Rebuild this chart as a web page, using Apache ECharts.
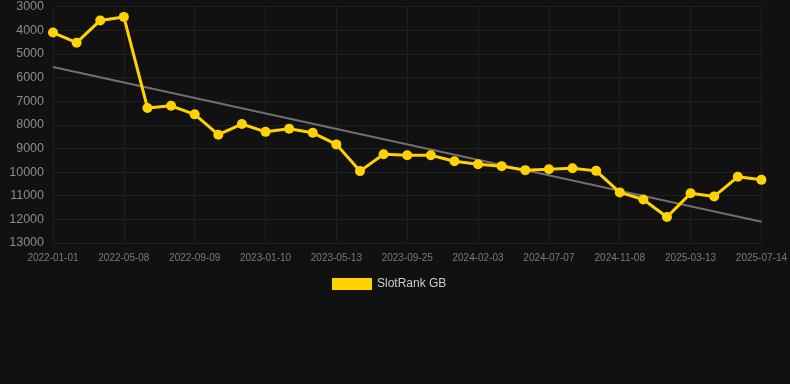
<!DOCTYPE html>
<html>
<head>
<meta charset="utf-8">
<script src="https://cdn.jsdelivr.net/npm/echarts@6/dist/echarts.min.js"></script>
<style>html,body{margin:0;padding:0;background:#111111;}#c{width:790px;height:384px;}</style>
</head>
<body>
<div id="c"></div>
<script>
const categories = ["2022-01-01","2022-02-12","2022-03-26","2022-05-08","2022-06-19","2022-07-31","2022-09-09","2022-10-21","2022-12-01","2023-01-10","2023-02-20","2023-04-02","2023-05-13","2023-06-27","2023-08-11","2023-09-25","2023-11-07","2023-12-21","2024-02-03","2024-03-23","2024-05-15","2024-07-07","2024-08-19","2024-09-29","2024-11-08","2024-12-20","2025-01-31","2025-03-13","2025-04-24","2025-06-03","2025-07-14"];
const rankValues = [4100,4530,3590,3440,7290,7200,7560,8420,7970,8300,8170,8340,8830,9960,9250,9290,9290,9540,9670,9750,9920,9880,9840,9950,10860,11160,11900,10900,11030,10200,10330];
const trendStart = 5560;
const trendEnd = 12100;
const yTicks = {min: 3000, max: 13000, interval: 1000};

const trendValues = categories.map((c, i) => i === 0 ? trendStart : (i === categories.length - 1 ? trendEnd : null));

const chart = echarts.init(document.getElementById('c'), null, {renderer: 'canvas'});
chart.setOption({
  backgroundColor: '#111111',
  animation: false,
  grid: {left: 53, right: 28, top: 6, bottom: 141},
  legend: {
    data: ['SlotRank GB'],
    top: 273,
    left: 327,
    itemWidth: 40,
    itemHeight: 12,
    itemGap: 10,
    icon: 'rect',
    textStyle: {color: '#cccccc', fontSize: 12, fontFamily: 'Liberation Sans, Arial, sans-serif'}
  },
  xAxis: {
    type: 'category',
    data: categories,
    boundaryGap: false,
    axisLine: {show: false},
    axisTick: {show: false},
    axisLabel: {interval: 2, color: '#7a7a7a', fontSize: 10, margin: 10, fontFamily: 'Liberation Sans, Arial, sans-serif'},
    splitLine: {show: true, interval: 2, lineStyle: {color: '#1f1f1f', width: 1}}
  },
  yAxis: {
    type: 'value',
    inverse: true,
    min: yTicks.min,
    max: yTicks.max,
    interval: yTicks.interval,
    axisLine: {show: false},
    axisTick: {show: false},
    axisLabel: {color: '#8a8a8a', fontSize: 12.5, margin: 9, formatter: v => String(v), fontFamily: 'Liberation Sans, Arial, sans-serif'},
    splitLine: {lineStyle: {color: '#1f1f1f', width: 1}}
  },
  series: [
    {
      name: 'SlotRank GB',
      type: 'line',
      data: rankValues,
      symbol: 'circle',
      symbolSize: 10,
      itemStyle: {color: '#FFD200'},
      lineStyle: {color: '#FFD200', width: 3},
      z: 3
    },
    {
      name: 'Trend',
      type: 'line',
      data: trendValues,
      connectNulls: true,
      symbol: 'none',
      lineStyle: {color: '#707070', width: 2},
      z: 2
    }
  ]
});
</script>
</body>
</html>
